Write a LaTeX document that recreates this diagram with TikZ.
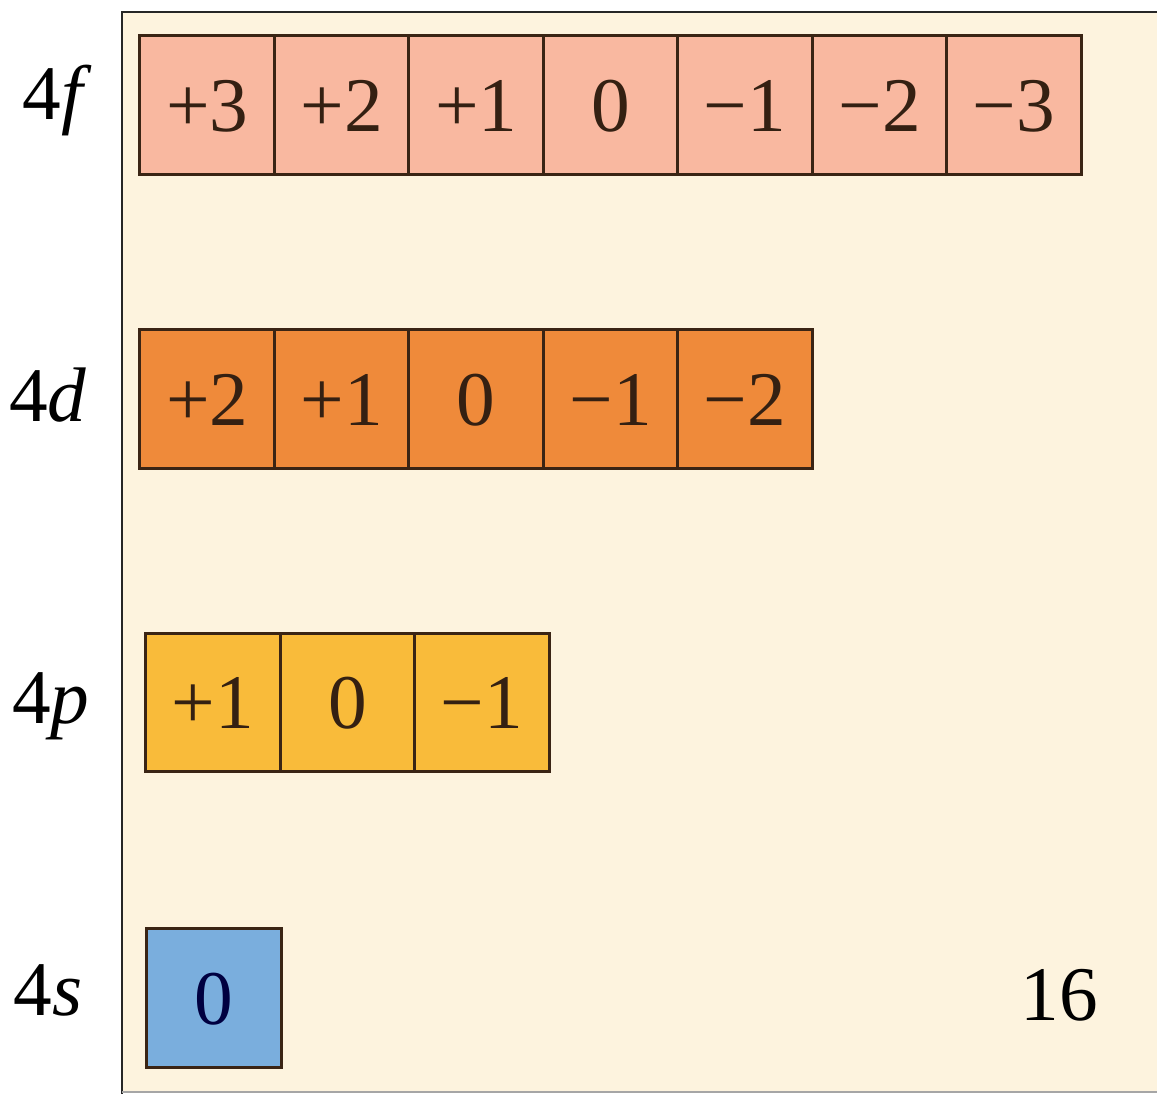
\documentclass[tikz,border=0pt]{standalone}
\usepackage{fontspec}
\setmainfont{Liberation Serif}
\usepackage{xcolor}
\usetikzlibrary{positioning}

\definecolor{panelbg}{HTML}{FDF3DE}
\definecolor{fcol}{HTML}{F9B8A0}
\definecolor{dcol}{HTML}{EF8A3A}
\definecolor{pcol}{HTML}{F9BB3A}
\definecolor{scol}{HTML}{7AAEDD}
\definecolor{edge}{HTML}{3A2414}

\begin{document}
\begin{tikzpicture}[
    x=0.02cm, y=-0.02cm,
    orb/.style={rectangle, draw=edge, line width=1.7pt, outer sep=0pt, inner sep=0pt,
                minimum width=2.69cm, minimum height=2.77cm, text=edge!90!black,
                text height=29.7pt, text depth=0pt, font=\fontsize{44}{48}\selectfont},
    orbf/.style={orb, fill=fcol},
    orbd/.style={orb, fill=dcol},
    orbp/.style={orb, fill=pcol},
    orbs/.style={orb, fill=scol, text=black!75!blue},
    shell/.style={anchor=base east, inner sep=0pt, font=\fontsize{44}{48}\selectfont}
]
\clip (0,0) rectangle (1157,1094);
\useasboundingbox (0,0) rectangle (1157,1094);

% Panel
\fill[panelbg] (122,12) rectangle (1170,1092);
\draw[black!85, line width=1.5pt] (1170,12) -- (122,12) -- (122,1094);
\draw[black!35, line width=1pt] (122,1092) -- (1170,1092);

% 4f subshell
\node [orbf] at (207.2,105) (fp3) {+3};
\node [orbf, right=0pt of fp3] (fp2) {+2};
\node [orbf, right=0pt of fp2] (fp1) {+1};
\node [orbf, right=0pt of fp1] (f0) {0};
\node [orbf, right=0pt of f0] (fm1) {−1};
\node [orbf, right=0pt of fm1] (fm2) {−2};
\node [orbf, right=0pt of fm2] (fm3) {−3};

% 4d subshell
\node [orbd] at (207.2,399) (dp2) {+2};
\node [orbd, right=0pt of dp2] (dp1) {+1};
\node [orbd, right=0pt of dp1] (d0) {0};
\node [orbd, right=0pt of d0] (dm1) {−1};
\node [orbd, right=0pt of dm1] (dm2) {−2};

% 4p subshell
\node [orbp] at (213,702.5) (pp1) {+1};
\node [orbp, right=0pt of pp1] (p0) {0};
\node [orbp, right=0pt of p0] (pm1) {−1};

% 4s subshell
\node [orbs] at (214,998) (s0) {0};

% Subshell labels
\node [shell] at (92,120) (lf) {4\textit{f}};
\node [shell] at (87,422) (ld) {4\textit{d}};
\node [shell] at (90,724) (lp) {4\textit{p}};
\node [shell] at (83,1015) (ls) {4\textit{s}};

% Total
\node [font=\fontsize{44}{48}\selectfont, inner sep=0pt] at (1059,995) (total) {16};

\end{tikzpicture}
\end{document}
